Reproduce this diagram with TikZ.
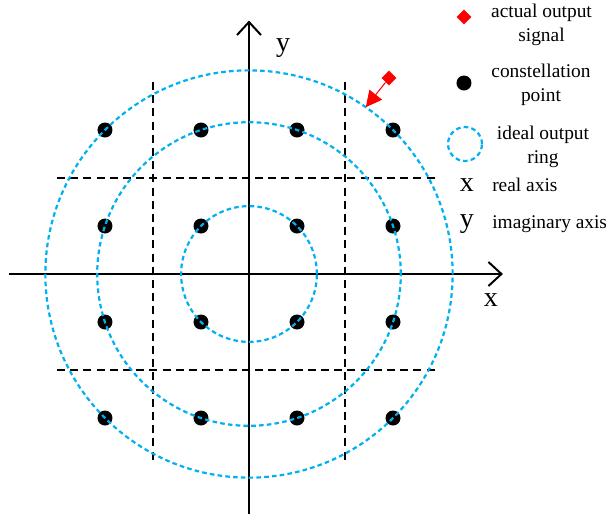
\documentclass[tikz,border=0pt]{standalone}
\usepackage{fontspec}
\setmainfont{Liberation Serif}
\usetikzlibrary{arrows.meta,shapes.geometric}
\definecolor{ringblue}{RGB}{0,176,240}
\definecolor{signalred}{RGB}{255,0,0}

\begin{document}
\begin{tikzpicture}[x=24pt,y=24pt,
    axis/.style={line width=1pt,-{Straight Barb[length=6.5pt,width=12pt,line width=1pt]}},
    ring/.style={ringblue,line width=1.1pt,dash pattern=on 2.3pt off 1.6pt},
    gridline/.style={line width=0.65pt,dash pattern=on 4pt off 2.6pt},
    dot/.style={circle,fill=black,inner sep=0pt,minimum size=7.5pt},
    mark diamond/.style={diamond,fill=signalred,inner sep=0pt,minimum size=7.5pt},
    legend/.style={align=center,font=\fontsize{9.7}{12}\selectfont},
    axislabel/.style={font=\fontsize{14}{16}\selectfont}]
    \useasboundingbox (-5.1875,-5.0417) rectangle (7.5208,5.7083);
    \coordinate (O) at (0,0);
    \coordinate (xs) at (-5,0);
    \coordinate (xe) at (5.29,0);
    \coordinate (ys) at (0,-5);
    \coordinate (ye) at (0,5.28);

    % dashed decision lines
    \draw[gridline] (-2,4) -- (-2,-3.9);
    \draw[gridline] (2,4) -- (2,-3.9);
    \draw[gridline] (-4,2) -- (3.9,2);
    \draw[gridline] (-4,-2) -- (3.9,-2);

    % axes
    \draw[axis] (xs) -- (xe);
    \draw[axis] (ys) -- (ye);
    \node[axislabel] (xlab) at (5.04,-0.54) {x};
    \node[axislabel] (ylab) at (0.71,4.71) {y};

    % constellation points
    \foreach \i in {-3,-1,1,3}
        \foreach \j in {-3,-1,1,3}
            \node[dot] (p\i\j) at (\i,\j) {};

    % ideal output rings
    \draw[ring] (O) circle (1.4142);
    \draw[ring] (O) circle (3.1623);
    \draw[ring] (O) circle (4.2426);

    % actual output signal
    \node[mark diamond] (sig) at (2.917,4.083) {};
    \coordinate (hit) at (55:4.2426);
    \draw[signalred,line width=0.5pt,-{Triangle[length=8pt,width=8pt]}]
        (sig) -- (hit);

    % legend
    \node[mark diamond] (ksig) at (4.479,5.354) {};
    \node[legend] (tsig) at (6.094,5.1875) {actual output\\signal};
    \node[dot] (kdot) at (4.479,3.979) {};
    \node[legend] (tdot) at (6.083,3.948) {constellation\\point};
    \draw[ring] (4.5,2.708) circle (0.354);
    \node[legend] (tring) at (6.125,2.656) {ideal output\\ring};
    \node[axislabel] (kx) at (4.54,1.854) {x};
    \node[legend,anchor=west,inner sep=0pt] (tx) at (5.06,1.854) {real axis};
    \node[axislabel] (ky) at (4.54,1.04) {y};
    \node[legend,anchor=west,inner sep=0pt] (ty) at (5.06,1.04) {imaginary axis};
\end{tikzpicture}
\end{document}
